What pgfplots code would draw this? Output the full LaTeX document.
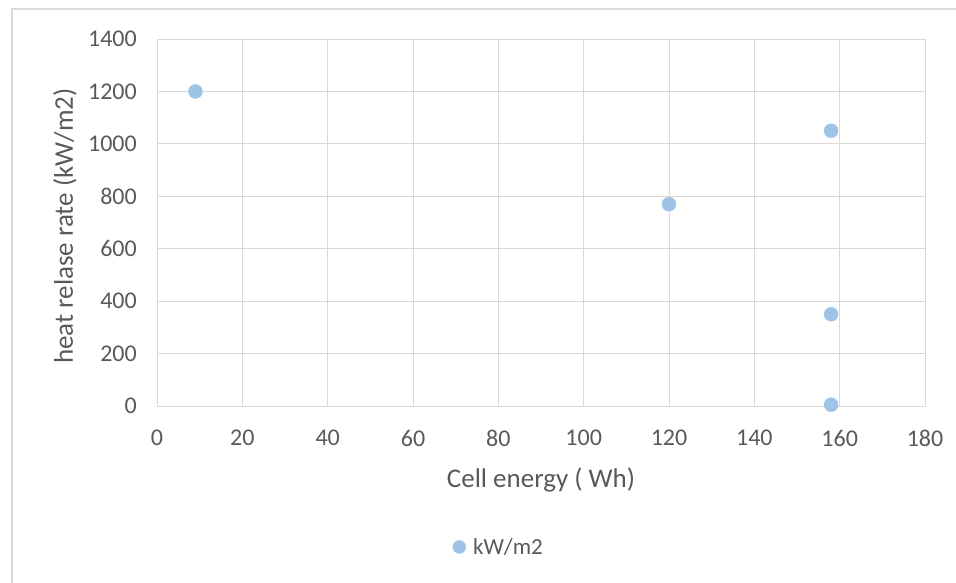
\documentclass[border=0pt]{standalone}
\usepackage{pgfplots}
\pgfplotsset{compat=1.18}
\usepackage{fontspec}
\setmainfont{Carlito}
\definecolor{txt}{HTML}{595959}
\definecolor{grd}{HTML}{D9D9D9}
\definecolor{mk}{HTML}{9DC3E6}
\begin{document}
\begin{tikzpicture}
\path[use as bounding box] (0pt,0pt) rectangle (956pt,582pt);
\draw[grd,line width=1.2pt] (12pt,-2pt) -- (12pt,573pt) -- (960pt,573pt);
\begin{axis}[
  at={(157pt,176pt)}, anchor=south west,
  scale only axis, width=768pt, height=367pt,
  xmin=0, xmax=180, ymin=0, ymax=1400,
  xtick={0,20,...,180}, ytick={0,200,...,1400},
  grid=major, major grid style={grd, line width=0.9pt},
  axis line style={grd, line width=0.9pt},
  tick style={draw=none},
  /pgf/number format/assume math mode=true,
  /pgf/number format/1000 sep={},
  ticklabel style={font=\fontsize{24}{28}\selectfont, text=txt, inner sep=0pt},
  xticklabel style={anchor=center, yshift=-32pt},
  yticklabel style={anchor=east, xshift=-20pt},
  xlabel={Cell energy ( Wh)},
  ylabel={heat relase rate (kW/m2)},
  label style={font=\fontsize{27}{32}\selectfont, text=txt, inner sep=0pt},
  xlabel style={at={(axis description cs:0.5,-0.2016)}, anchor=center},
  ylabel style={at={(axis description cs:-0.1198,0.49)}, anchor=center, rotate=0},
  legend style={at={(0.445,-0.384)}, anchor=center, draw=none, fill=none,
    font=\fontsize{23}{27}\selectfont, text=txt, inner sep=0pt},
  legend image code/.code={\fill[mk] (0.2cm,0) circle (6.5pt);},
  legend cell align=left,
]
\addplot[only marks, mark=*, mark size=7pt, mark options={fill=mk, draw=mk}]
  coordinates {(9,1200) (120,770) (158,1050) (158,350) (158,5)};
\addlegendentry{\hspace{5pt}kW/m2}
\end{axis}
\end{tikzpicture}
\end{document}
